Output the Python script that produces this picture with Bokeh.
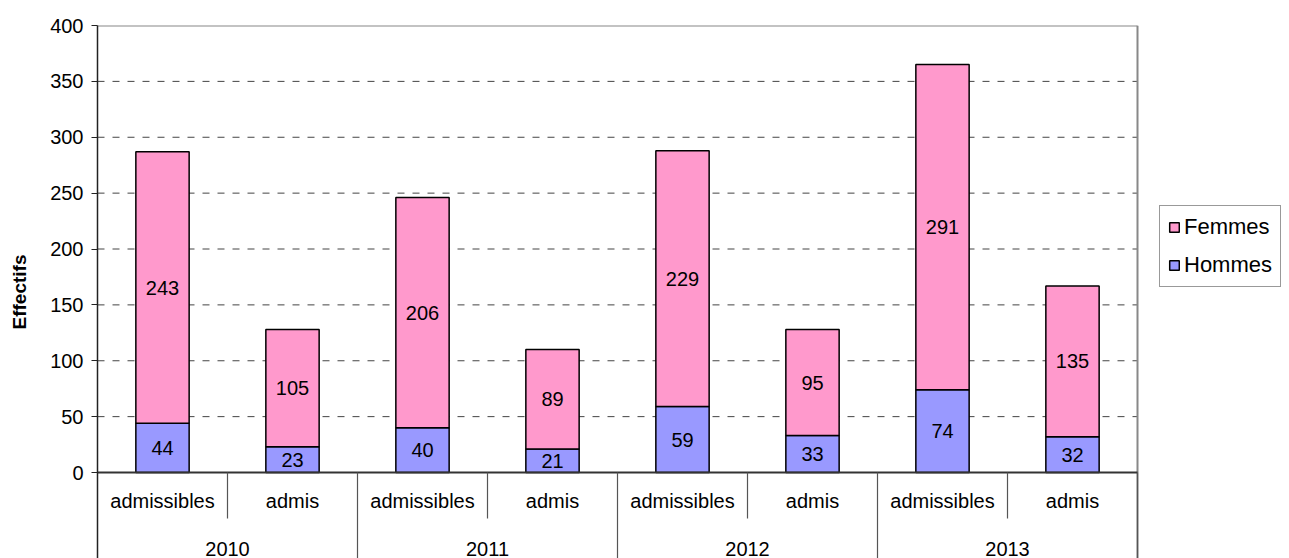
from bokeh.plotting import figure
from bokeh.models import (Range1d, FixedTicker, Legend, LegendItem, ColumnDataSource)
from bokeh.embed import file_html
from bokeh.resources import INLINE
from bokeh.core.properties import value

# Data
years = ["2010", "2011", "2012", "2013"]
stages = ["admissibles", "admis"]
hommes = [44, 23, 40, 21, 59, 33, 74, 32]
femmes = [243, 105, 206, 89, 229, 95, 291, 135]
y_ticks = [0, 50, 100, 150, 200, 250, 300, 350, 400]

FONT = "Liberation Sans"
PINK = "#FF99CC"
BLUE = "#9999FF"

# Frame geometry (pixels)
W, H = 1289, 558
LEFT, TOP = 97, 25
PX_PER_CAT = 130.0
Y0_PX = 472  # pixel row of value 0
PX_PER_UNIT = (Y0_PX - TOP) / 400.0

n = len(hommes)
x_end = (W - LEFT) / PX_PER_CAT
y_start = -(H - Y0_PX) / PX_PER_UNIT

def py(px):
    """pixel offset below the zero line -> data value"""
    return -px / PX_PER_UNIT

p = figure(width=W, height=H, output_backend="svg", toolbar_location=None,
           x_range=Range1d(0, x_end), y_range=Range1d(y_start, 400),
           x_axis_location=None, min_border_left=LEFT, min_border_right=0,
           min_border_top=TOP, min_border_bottom=0)
p.title.visible = False
p.outline_line_color = None
p.xgrid.visible = False
p.ygrid.visible = False
p.background_fill_color = "white"
p.border_fill_color = "white"

# Y axis
ax = p.yaxis[0]
ax.ticker = FixedTicker(ticks=y_ticks)
ax.minor_tick_line_color = None
ax.major_tick_in = 0
ax.major_tick_out = 6
ax.major_tick_line_color = "#222222"
ax.axis_line_color = "#222222"
ax.axis_line_width = 1.5
ax.major_label_standoff = 8
ax.major_label_text_font = FONT
ax.major_label_text_font_size = "20px"
ax.major_label_text_color = "black"
ax.axis_label = "Effectifs"
ax.axis_label_text_font = FONT
ax.axis_label_text_font_size = "19px"
ax.axis_label_text_font_style = "bold"
ax.axis_label_text_color = "black"
ax.axis_label_standoff = 17

# Dashed gridlines from 50 to 350
grid_vals = [t for t in y_ticks if 0 < t < 400]
p.segment(x0=[0] * len(grid_vals), x1=[n] * len(grid_vals), y0=grid_vals, y1=grid_vals,
          line_color="#444444", line_width=1, line_dash="7 8")

# Top and right border of the plotting area
p.segment(x0=[0], x1=[n], y0=[400], y1=[400], line_color="#888888", line_width=2)
p.segment(x0=[n], x1=[n], y0=[y_start], y1=[400], line_color="#888888", line_width=2)

# Stacked bars
xs = [i + 0.5 for i in range(n)]
src = ColumnDataSource(dict(x=xs, hommes=hommes, femmes=femmes))
rs = p.vbar_stack(["hommes", "femmes"], x="x", width=0.41, source=src,
                  fill_color=[BLUE, PINK], line_color="black", line_width=1.5)

# Value labels in the middle of each segment
lab_x = xs + xs
lab_y = [h / 2 for h in hommes] + [h + f / 2 for h, f in zip(hommes, femmes)]
lab_t = [str(v) for v in hommes] + [str(v) for v in femmes]
p.text(x=lab_x, y=lab_y, text=lab_t, text_align="center", text_baseline="middle",
       text_font=value(FONT), text_font_size="20px", text_color="black")

# Baseline
p.segment(x0=[0], x1=[n], y0=[0], y1=[0], line_color="#333333", line_width=2)

# Category axis: separators and labels
inner_sep = [2 * i + 1 for i in range(len(years))]
outer_sep = [2 * i for i in range(len(years) + 1)]
p.segment(x0=inner_sep, x1=inner_sep, y0=[0] * len(inner_sep), y1=[py(46)] * len(inner_sep),
          line_color="#555555", line_width=1.2)
p.segment(x0=outer_sep[1:], x1=outer_sep[1:], y0=[0] * (len(outer_sep) - 1),
          y1=[y_start] * (len(outer_sep) - 1), line_color="#555555", line_width=1.2)

stage_labels = [stages[i % 2] for i in range(n)]
p.text(x=xs, y=[py(28)] * n, text=stage_labels, text_align="center", text_baseline="middle",
       text_font=value(FONT), text_font_size="20px", text_color="black")
year_x = [2 * i + 1 for i in range(len(years))]
p.text(x=year_x, y=[py(76)] * len(years), text=years, text_align="center",
       text_baseline="middle", text_font=value(FONT), text_font_size="20px", text_color="black")

# Legend
legend = Legend(items=[LegendItem(label="Femmes", renderers=[rs[1]]),
                       LegendItem(label="Hommes", renderers=[rs[0]])],
                location=(1159 - LEFT, H - 287), orientation="vertical",
                label_text_font=FONT, label_text_font_size="22px", label_text_color="black",
                glyph_width=12, glyph_height=12, label_standoff=4,
                padding=8, spacing=12, margin=0,
                border_line_color="#333333", border_line_width=1,
                background_fill_color="white", background_fill_alpha=1.0)
p.add_layout(legend)

open("out.html", "w").write(file_html(p, INLINE))
